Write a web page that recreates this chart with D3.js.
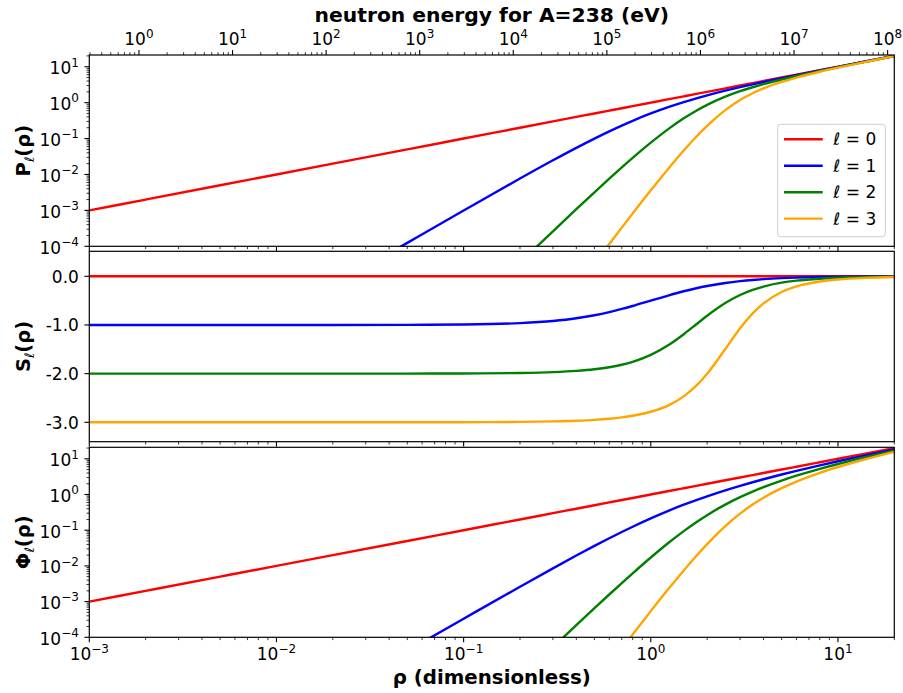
<!DOCTYPE html>
<html><head><meta charset="utf-8">
<script src="https://cdn.jsdelivr.net/npm/d3@7"></script>
<style>body{margin:0;background:#fff} text{font-family:"DejaVu Sans",sans-serif;fill:#000}</style>
</head><body><svg id="chart" width="903" height="693"></svg>
<script>
// ---------- data ----------
const rho = [0.001, 0.002, 0.005, 0.01, 0.02, 0.05, 0.1, 0.2, 0.3, 0.4, 0.5, 0.6, 0.7, 0.8, 1.0, 1.25, 1.5, 1.75, 2.0, 2.5, 3.0, 3.5, 4.0, 5.0, 6.0, 8.0, 10, 14, 20];

const P0 = [0.001, 0.002, 0.005, 0.01, 0.02, 0.05, 0.1, 0.2, 0.3, 0.4, 0.5, 0.6, 0.7, 0.8, 1.0, 1.25, 1.5, 1.75, 2.0, 2.5, 3.0, 3.5, 4.0, 5.0, 6.0, 8.0, 10, 14, 20];
const P1 = [1e-9, 8e-9, 1.25e-7, 9.999e-7, 7.997e-6, 1.2469e-4, 9.901e-4, 7.692e-3, 0.02477, 0.05517, 0.1, 0.15882, 0.2302, 0.3122, 0.5, 0.7622, 1.03846, 1.31923, 1.6, 2.15517, 2.7, 3.23585, 3.76471, 4.80769, 5.83784, 7.87692, 9.90099, 13.92893, 19.95012];
const P2 = [1.111e-16, 3.556e-15, 3.472e-13, 1.111e-11, 3.555e-10, 3.4693e-8, 1.10741e-6, 3.5082e-5, 2.6191e-4, 1.07726e-3, 3.1847e-3, 7.6164e-3, 0.015693, 0.028923, 0.076923, 0.18921, 0.36486, 0.5954, 0.86486, 1.46165, 2.07692, 2.68225, 3.27157, 4.40762, 5.50318, 7.62579, 9.70026, 13.78561, 19.85001];
const P3 = [4.444e-24, 5.689e-22, 3.472e-19, 4.444e-17, 5.688e-15, 3.4705e-12, 4.4356e-10, 5.6435e-8, 9.5461e-7, 7.0512e-6, 3.3014e-5, 1.15663e-4, 3.3126e-4, 8.1754e-4, 3.6101e-3, 0.015197, 0.046427, 0.112247, 0.226549, 0.61979, 1.18537, 1.83048, 2.4911, 3.7696, 4.97425, 7.23593, 9.3921, 13.56832, 19.69879];

const S0 = [0, 0, 0, 0, 0, 0, 0, 0, 0, 0, 0, 0, 0, 0, 0, 0, 0, 0, 0, 0, 0, 0, 0, 0, 0, 0, 0, 0, 0];
const S1 = [-1.0, -1.0, -0.99998, -0.9999, -0.9996, -0.99751, -0.990099, -0.961538, -0.917431, -0.862069, -0.8, -0.735294, -0.671141, -0.609756, -0.5, -0.390244, -0.307692, -0.246154, -0.2, -0.137931, -0.1, -0.075472, -0.058824, -0.038462, -0.027027, -0.015385, -0.009901, -0.005076, -0.002494];
const S2 = [-2.0, -2.0, -2.0, -1.99997, -1.99987, -1.99917, -1.99666, -1.98649, -1.96915, -1.94412, -1.91083, -1.86883, -1.81791, -1.7577, -1.61538, -1.40664, -1.18919, -0.98625, -0.81081, -0.55005, -0.38462, -0.2796, -0.21086, -0.13117, -0.08917, -0.04887, -0.03085, -0.01553, -0.007555];
const S3 = [-3.0, -3.0, -3.0, -3.0, -2.99992, -2.9995, -2.998, -2.99198, -2.98189, -2.96763, -2.9491, -2.92606, -2.8983, -2.8655, -2.78339, -2.64607, -2.46694, -2.2485, -2.00177, -1.49465, -1.06829, -0.76187, -0.55512, -0.32208, -0.20774, -0.107, -0.06544, -0.03203, -0.01534];

const Phi0 = [0.001, 0.002, 0.005, 0.01, 0.02, 0.05, 0.1, 0.2, 0.3, 0.4, 0.5, 0.6, 0.7, 0.8, 1.0, 1.25, 1.5, 1.75, 2.0, 2.5, 3.0, 3.5, 4.0, 5.0, 6.0, 8.0, 10, 14, 20];
const Phi1 = [3.333e-10, 2.667e-9, 4.1667e-8, 3.3332e-7, 2.666e-6, 4.1604e-5, 3.3131e-4, 2.6044e-3, 8.5432e-3, 0.0194936, 0.0363524, 0.0595805, 0.089274, 0.1252591, 0.2146018, 0.3539446, 0.5172063, 0.6983498, 0.8928513, 1.3097101, 1.7509542, 2.2075033, 2.6741823, 3.6265992, 4.5943524, 6.5535587, 8.5288723, 12.5005112, 18.4791621];
const Phi2 = [2.222e-17, 7.111e-16, 6.944e-14, 2.222e-12, 7.111e-11, 6.944e-9, 2.2169e-7, 7.0434e-6, 5.284e-5, 2.1889e-4, 6.531e-4, 1.5811e-3, 3.3056e-3, 6.1986e-3, 0.0172063, 0.0452602, 0.0943524, 0.1672995, 0.2640549, 0.5202958, 0.841201, 1.2070123, 1.6038268, 2.4568262, 3.3577541, 5.233248, 7.1583549, 11.072683, 17.0084056];
const Phi3 = [6.349e-25, 8.127e-23, 4.96e-20, 6.349e-18, 8.127e-16, 4.9603e-13, 6.3393e-11, 8.0763e-9, 1.36913e-7, 1.01436e-6, 4.7674e-6, 1.6778e-5, 4.84e-5, 1.203e-4, 5.412e-4, 2.3491e-3, 7.4749e-3, 0.019032, 0.040885, 0.1297219, 0.290815, 0.5214762, 0.8090646, 1.5037017, 2.2984674, 4.042795, 5.8903975, 9.7172374, 15.5879802];

const ellLabels = ["0", "1", "2", "3"];
const lineColors = ["#ff0000", "#0000ff", "#008000", "#ffa500"];

const rhoTickExps = [-3, -2, -1, 0, 1];
const energyTickExps = [0, 1, 2, 3, 4, 5, 6, 7, 8];
const logYTickExps = [-4, -3, -2, -1, 0, 1];
const shiftTicks = [0, -1, -2, -3];
const shiftTickLabels = ["0.0", "-1.0", "-2.0", "-3.0"];
const rhoPerSqrtE = 1.842e-3;   // rho for A=238 at E = 1 eV

// ---------- layout ----------
const svg = d3.select("#chart");
const L = 89.3, R = 894.3;
const x = d3.scaleLog().domain([1e-3, 20]).range([L, R]);
const panels = [
  {top: 55, bottom: 246.3, log: true, domain: [1e-4, 21.2], series: [P0, P1, P2, P3], label: "P"},
  {top: 251.3, bottom: 441.7, log: false, domain: [-3.3986, 0.5137], series: [S0, S1, S2, S3], label: "S"},
  {top: 447.3, bottom: 637.3, log: true, domain: [1e-4, 21], series: [Phi0, Phi1, Phi2, Phi3], label: "Φ"}
];
const FS = 17, SUP = 12;
const majLen = 4.9, minLen = 2.8;
const LW = 2.4;

function minorValues(lo, hi) {
  const out = [];
  for (let e = Math.floor(Math.log10(lo)) ; e <= Math.ceil(Math.log10(hi)); e++)
    for (let k = 2; k <= 9; k++) { const v = k * Math.pow(10, e); if (v >= lo && v <= hi) out.push(v); }
  return out;
}
function powLabel(g, px, py, anchor, exp, supDy) {
  const t = g.append("text").attr("x", px).attr("y", py).attr("text-anchor", anchor).attr("font-size", FS);
  t.append("tspan").text("10");
  t.append("tspan").attr("dy", supDy || -7.5).attr("font-size", SUP).text(exp < 0 ? "\u2212" + (-exp) : String(exp));
}

panels.forEach((p, i) => {
  const y = (p.log ? d3.scaleLog() : d3.scaleLinear()).domain(p.domain).range([p.bottom, p.top]);
  const g = svg.append("g");
  const clipId = "clip" + i;
  svg.append("clipPath").attr("id", clipId).append("rect")
    .attr("x", L).attr("y", p.top).attr("width", R - L).attr("height", p.bottom - p.top);

  const line = d3.line().x(d => x(d[0])).y(d => y(d[1])).curve(d3.curveMonotoneX);
  const lg = g.append("g").attr("clip-path", `url(#${clipId})`);
  p.series.forEach((s, k) => {
    lg.append("path").datum(rho.map((r, j) => [r, s[j]]))
      .attr("d", line).attr("fill", "none").attr("stroke", lineColors[k])
      .attr("stroke-width", LW).attr("stroke-linejoin", "round");
  });

  // x ticks (bottom of each panel)
  const xt = g.append("g").attr("stroke", "#000");
  rhoTickExps.forEach(e => {
    const px = x(Math.pow(10, e));
    xt.append("line").attr("x1", px).attr("x2", px).attr("y1", p.bottom).attr("y2", p.bottom + majLen).attr("stroke-width", 1.1);
  });
  minorValues(1e-3, 20).forEach(v => {
    const px = x(v);
    xt.append("line").attr("x1", px).attr("x2", px).attr("y1", p.bottom).attr("y2", p.bottom + minLen).attr("stroke-width", 0.8);
  });

  // y ticks
  const yt = g.append("g").attr("stroke", "#000");
  if (p.log) {
    logYTickExps.forEach(e => {
      const py = y(Math.pow(10, e));
      yt.append("line").attr("x1", L - majLen).attr("x2", L).attr("y1", py).attr("y2", py).attr("stroke-width", 1.1);
      powLabel(g, L - majLen - 5.5, py + 7.3, "end", e);
    });
    minorValues(p.domain[0], p.domain[1]).forEach(v => {
      const py = y(v);
      yt.append("line").attr("x1", L - minLen).attr("x2", L).attr("y1", py).attr("y2", py).attr("stroke-width", 0.8);
    });
  } else {
    shiftTicks.forEach((v, k) => {
      const py = y(v);
      yt.append("line").attr("x1", L - majLen).attr("x2", L).attr("y1", py).attr("y2", py).attr("stroke-width", 1.1);
      g.append("text").attr("x", L - majLen - 5.5).attr("y", py + 6.2).attr("text-anchor", "end")
        .attr("font-size", FS).text(shiftTickLabels[k]);
    });
  }

  // frame
  g.append("rect").attr("x", L).attr("y", p.top).attr("width", R - L).attr("height", p.bottom - p.top)
    .attr("fill", "none").attr("stroke", "#000").attr("stroke-width", 1.2);

  // y label
  const yl = g.append("text").attr("transform", `translate(30,${(p.top + p.bottom) / 2}) rotate(-90)`)
    .attr("text-anchor", "middle").attr("font-size", 19.5).attr("font-weight", "bold");
  yl.append("tspan").text(p.label);
  yl.append("tspan").attr("dy", 4).attr("font-size", 13).attr("font-style", "italic").attr("font-weight", "normal").text("ℓ");
  yl.append("tspan").attr("dy", -4).text("(ρ)");
});

// bottom x tick labels
const bl = svg.append("g");
rhoTickExps.forEach(e => powLabel(bl, x(Math.pow(10, e)), 660, "middle", e));

// top energy axis
const Emin = Math.pow(1e-3 / rhoPerSqrtE, 2), Emax = Math.pow(20 / rhoPerSqrtE, 2);
const xE = d3.scaleLog().domain([Emin, Emax]).range([L, R]);
const tg = svg.append("g");
energyTickExps.forEach(e => {
  const px = xE(Math.pow(10, e));
  tg.append("line").attr("x1", px).attr("x2", px).attr("y1", 55).attr("y2", 55 - majLen).attr("stroke", "#000").attr("stroke-width", 1.1);
  powLabel(tg, px, 45, "middle", e, -7);
});
minorValues(Emin, Emax).forEach(v => {
  const px = xE(v);
  tg.append("line").attr("x1", px).attr("x2", px).attr("y1", 55).attr("y2", 55 - minLen).attr("stroke", "#000").attr("stroke-width", 0.8);
});

// axis titles
svg.append("text").attr("x", (L + R) / 2).attr("y", 21.5).attr("text-anchor", "middle")
  .attr("font-size", 20.3).attr("font-weight", "bold").text("neutron energy for A=238 (eV)");
svg.append("text").attr("x", (L + R) / 2).attr("y", 684).attr("text-anchor", "middle")
  .attr("font-size", 19.8).attr("font-weight", "bold").text("ρ (dimensionless)");

// legend
const leg = svg.append("g");
leg.append("rect").attr("x", 777.7).attr("y", 124.3).attr("width", 107.6).attr("height", 112.4).attr("rx", 3)
  .attr("fill", "#fff").attr("fill-opacity", 0.8).attr("stroke", "#cccccc").attr("stroke-width", 1);
ellLabels.forEach((lab, k) => {
  const ly = 139.3 + k * 26.45;
  leg.append("line").attr("x1", 784).attr("x2", 822.7).attr("y1", ly).attr("y2", ly)
    .attr("stroke", lineColors[k]).attr("stroke-width", LW);
  const t = leg.append("text").attr("x", 833.3).attr("y", ly + 6).attr("font-size", 17);
  t.append("tspan").attr("font-style", "italic").text("ℓ");
  t.append("tspan").text(" = " + lab);
});
</script></body></html>
